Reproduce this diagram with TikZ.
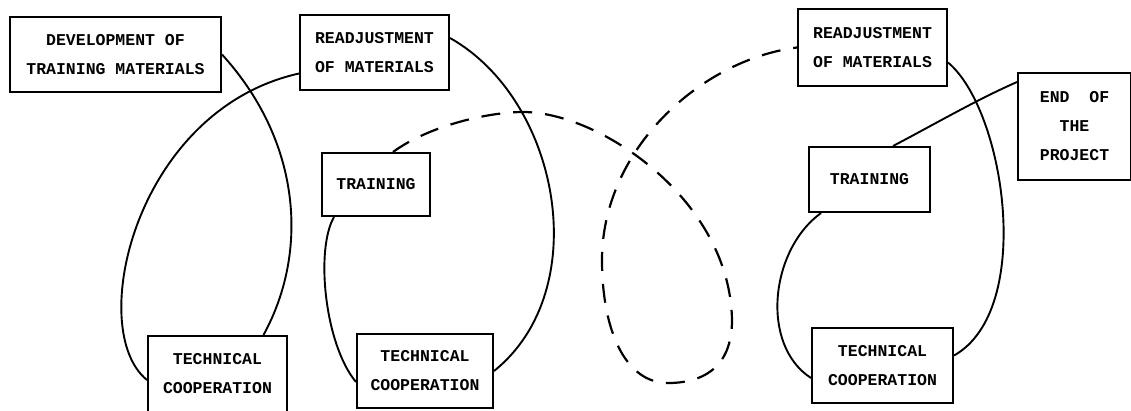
\documentclass[tikz,border=0pt]{standalone}
\usepackage{fontspec}
\newfontfamily\typewriter{Liberation Mono}
\tikzset{
  box/.style={draw,line width=2pt,inner sep=0pt,align=center,
    font=\typewriter\bfseries\fontsize{16.5}{29}\selectfont},
  link/.style={line width=1.9pt},
  dashlink/.style={line width=2.2pt,dash pattern=on 19pt off 13pt}
}
\begin{document}
\begin{tikzpicture}[x=1pt,y=-1pt]
\useasboundingbox (0,0) rectangle (1131,410);
% boxes
\node[box,minimum width=211pt,minimum height=75pt] (devmat) at (115.5,54.5) {DEVELOPMENT OF\\TRAINING MATERIALS};
\node[box,minimum width=149pt,minimum height=75pt] (readjA) at (374.5,52.5) {READJUSTMENT\\OF MATERIALS};
\node[box,minimum width=108pt,minimum height=63pt] (trainA) at (376,184.5) {TRAINING};
\node[box,minimum width=139pt,minimum height=76pt] (techA) at (217.5,374) {TECHNICAL\\COOPERATION};
\node[box,minimum width=136pt,minimum height=74pt] (techB) at (425,371) {TECHNICAL\\COOPERATION};
\node[box,minimum width=149pt,minimum height=77pt] (readjB) at (872.5,47.5) {READJUSTMENT\\OF MATERIALS};
\node[box,minimum width=113pt,minimum height=107pt] (endproj) at (1074.5,126.5) {END\ \ OF\\THE\\PROJECT};
\node[box,minimum width=121pt,minimum height=65pt] (trainB) at (869.5,179.5) {TRAINING};
\node[box,minimum width=141pt,minimum height=75pt] (techC) at (882.5,365.5) {TECHNICAL\\COOPERATION};
% solid loops
\draw[link] (devmat.east) .. controls (300,140) and (310,250) .. ([xshift=46pt]techA.north);
\draw[link] ([yshift=-21pt]readjA.west) .. controls (135,110) and (85,330) .. ([yshift=-6pt]techA.west);
\draw[link] ([yshift=14.5pt]readjA.east) .. controls (560,100) and (595,290) .. (techB.east);
\draw[link] ([xshift=13pt]trainA.south west) .. controls (315,250) and (325,345) .. ([yshift=-11pt]techB.west);
\draw[link] ([yshift=-15pt]readjB.east) .. controls (1005,110) and (1035,310) .. ([yshift=10pt]techC.east);
\draw[link] ([yshift=-10pt]endproj.north west) .. controls (976,100) and (935,124) .. ([xshift=23.5pt]trainB.north);
\draw[link] ([xshift=13pt]trainB.south west) .. controls (770,250) and (760,345) .. ([yshift=-12.5pt]techC.west);
% dashed loop
\draw[dashlink] ([xshift=17pt]trainA.north) .. controls (430,125) and (490,112) .. (523,112)
  .. controls (600,112) and (730,200) .. (732,320)
  .. controls (732,370) and (700,383) .. (668,383)
  .. controls (625,383) and (602,330) .. (602,260)
  .. controls (602,150) and (700,60) .. (readjB.west);
\end{tikzpicture}
\end{document}
